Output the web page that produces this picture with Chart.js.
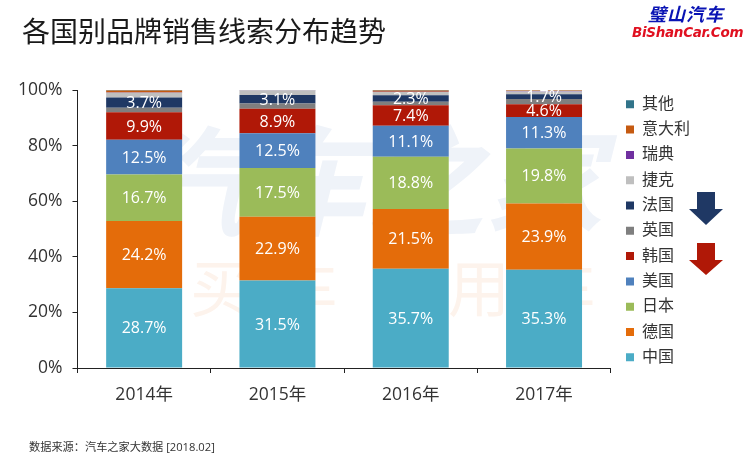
<!DOCTYPE html>
<html lang="zh-CN">
<head>
    <meta charset="UTF-8">
    <title>各国别品牌销售线索分布趋势</title>
    <script src="https://cdn.jsdelivr.net/npm/chart.js"></script>
    <style>
        html, body { margin: 0; padding: 0; background: #fff; }
        body { width: 744px; height: 465px; position: relative; overflow: hidden;
               font-family: "Open Sans", "Noto Sans CJK SC", sans-serif; }
        div, svg { position: absolute; white-space: nowrap; }
        canvas { position: absolute; left: 0; top: 0; }
        #title { left: 22px; top: 11px; font-size: 28px; line-height: 40px; color: #1a1a1a; }
        #source { left: 29px; top: 439px; font-size: 11.2px; line-height: 16px; color: #333; }
        #logoCn { left: 648px; top: 1px; font-size: 18px; line-height: 24px; color: #0a14b4; font-weight: bold; font-style: italic; letter-spacing: 1px; font-family: "Noto Sans CJK SC"; }
        #logoEn { left: 632px; top: 23px; font-size: 13.5px; line-height: 18px; color: #e01020; font-weight: bold; font-style: italic; font-family: "DejaVu Sans"; letter-spacing: -0.3px; }
        #wm1 { left: 130px; top: 105px; font-size: 118px; line-height: 140px; color: #eff3f9; font-weight: bold; font-style: italic; font-family: "Noto Sans CJK SC"; }
        #wm2 { left: 190px; top: 245px; font-size: 62px; line-height: 80px; color: #fdf3ec; letter-spacing: 24px; font-family: "Noto Sans CJK SC"; }
    </style>
</head>
<body>
    <div id="wm1">汽车之家</div>
    <div id="wm2">买车·用车</div>
    <canvas id="leadChart" width="744" height="465"></canvas>
    <div id="title">各国别品牌销售线索分布趋势</div>
    <div id="source">数据来源：汽车之家大数据 [2018.02]</div>
    <div id="logoCn">璧山汽车</div>
    <div id="logoEn">BiShanCar.Com</div>
    <svg style="left:688px;top:192px" width="36" height="34"><polygon points="9,0 27,0 27,17 35,17 18,33 1,17 9,17" fill="#1f3864"/></svg>
    <svg style="left:688px;top:243px" width="36" height="34"><polygon points="9,0 27,0 27,17 35,17 18,32 1,17 9,17" fill="#b01807"/></svg>

    <script>
        const years = ['2014年', '2015年', '2016年', '2017年'];
        const china = [28.7, 31.5, 35.7, 35.3];
        const germany = [24.2, 22.9, 21.5, 23.9];
        const japan = [16.7, 17.5, 18.8, 19.8];
        const usa = [12.5, 12.5, 11.1, 11.3];
        const korea = [9.9, 8.9, 7.4, 4.6];
        const uk = [1.6, 1.8, 1.3, 1.9];
        const france = [3.7, 3.1, 2.3, 1.7];
        const czech = [1.7, 1.7, 1.2, 1.0];
        const sweden = [0.1, 0.6, 0.1, 0.1];
        const italy = [0.7, 0.3, 0.4, 0.2];
        const other = [0.2, 0.2, 0.2, 0.1];

        const fontFamily = '"Open Sans", "Noto Sans CJK SC", sans-serif';

        function series(label, data, color, showValue) {
            return { label: label, data: data, backgroundColor: color, showValue: showValue };
        }

        // Value labels sit in the middle of each segment
        const valueLabels = {
            id: 'valueLabels',
            afterDatasetsDraw(chart) {
                const ctx = chart.ctx;
                ctx.save();
                ctx.fillStyle = '#fff';
                ctx.font = '16px ' + fontFamily;
                ctx.textAlign = 'center';
                ctx.textBaseline = 'middle';
                chart.data.datasets.forEach((ds, i) => {
                    if (!ds.showValue) return;
                    chart.getDatasetMeta(i).data.forEach((bar, j) => {
                        const mid = bar.getCenterPoint();
                        ctx.fillText(ds.data[j].toFixed(1) + '%', mid.x, mid.y + 1);
                    });
                });
                ctx.restore();
            }
        };

        // Empty scale, only there to keep a gap between plot and legend
        function spacer(position, size) {
            return {
                position: position,
                display: true,
                grid: { display: false },
                border: { display: false },
                ticks: { display: false },
                afterFit(scale) {
                    if (position === 'top') scale.height = size;
                    else scale.width = size;
                }
            };
        }

        const ctx = document.getElementById('leadChart').getContext('2d');
        new Chart(ctx, {
            type: 'bar',
            data: {
                labels: years,
                datasets: [
                    series('中国', china, '#4bacc6', true),
                    series('德国', germany, '#e46c0a', true),
                    series('日本', japan, '#9bbb59', true),
                    series('美国', usa, '#4f81bd', true),
                    series('韩国', korea, '#b01807', true),
                    series('英国', uk, '#7f7f7f', false),
                    series('法国', france, '#1f3864', true),
                    series('捷克', czech, '#bfbfbf', false),
                    series('瑞典', sweden, '#7030a0', false),
                    series('意大利', italy, '#c55a11', false),
                    series('其他', other, '#31748a', false)
                ]
            },
            options: {
                responsive: false,
                animation: false,
                layout: { padding: { left: 8, top: 87, right: 44, bottom: 47 } },
                datasets: { bar: { categoryPercentage: 1, barPercentage: 0.57 } },
                scales: {
                    x: {
                        stacked: true,
                        grid: { drawOnChartArea: false, color: '#222', tickLength: 5, tickColor: '#222' },
                        border: { color: '#222', width: 1 },
                        ticks: { color: '#333', font: { size: 17.5, family: fontFamily }, padding: 12 }
                    },
                    y: {
                        stacked: true,
                        min: 0,
                        max: 100,
                        grid: { drawOnChartArea: false, color: '#222', tickLength: 5, tickColor: '#222' },
                        border: { color: '#222', width: 1 },
                        ticks: {
                            stepSize: 20,
                            color: '#333',
                            font: { size: 17.5, family: fontFamily },
                            padding: 10,
                            callback: value => value + '%'
                        }
                    },
                    gapRight: spacer('right', 6),
                    gapTop: spacer('top', 3)
                },
                plugins: {
                    title: { display: false },
                    tooltip: { enabled: false },
                    legend: {
                        position: 'right',
                        align: 'start',
                        reverse: true,
                        labels: {
                            boxWidth: 8,
                            boxHeight: 8,
                            padding: 9.3,
                            color: '#333',
                            font: { size: 16, family: fontFamily }
                        }
                    }
                }
            },
            plugins: [valueLabels]
        });
    </script>
</body>
</html>
